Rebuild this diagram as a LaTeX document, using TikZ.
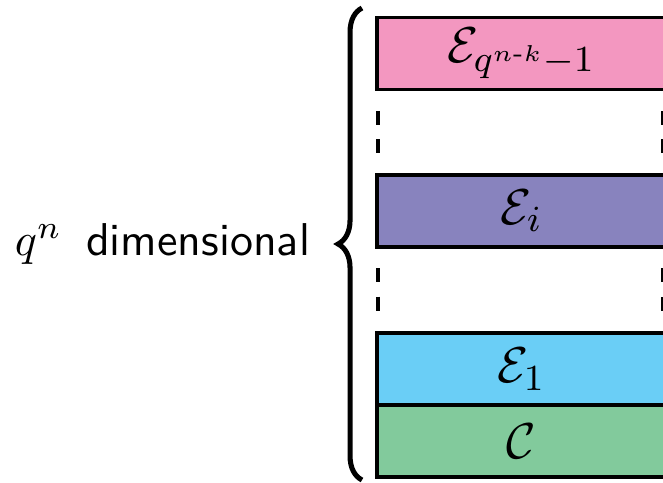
\documentclass[tikz,border=0pt]{standalone}
\usepackage{amsmath}
\usepackage{amssymb}
\usepackage{xcolor}
\usepackage{tikz}
\usetikzlibrary{calc,decorations.pathreplacing}
\definecolor{lyedge}{RGB}{0,0,0}
\definecolor{lypink}{RGB}{243,151,192}
\definecolor{lyviolet}{RGB}{136,131,190}
\definecolor{lycyan}{RGB}{106,206,246}
\definecolor{lygreen}{RGB}{130,202,156}
\tikzset{
  layer/.style={
    draw=lyedge, line width=0.8pt, align=center, inner sep=0pt, outer sep=0pt,
    minimum width=62.8pt, minimum height=15.7pt,
    font=\fontsize{11}{13}\selectfont
  },
  gap/.style={draw=lyedge, line width=0.75pt, dash pattern=on 3.05pt off 3.1pt},
  brc/.style={draw=lyedge, line width=1.1pt, decorate,
    decoration={brace, amplitude=5.2pt}},
  lbl/.style={font=\normalsize, inner sep=0pt}
}

\begin{document}
\begin{tikzpicture}[x=0.2174pt, y=-0.2174pt]
  \useasboundingbox (0,0) rectangle (663,482);
  % STACK
  \node[layer, fill=lypink] (etop) at (521.5,53.5)
    {$\mathcal{E}_{q^{n\text{-}k}-1}$};
  \node[layer, fill=lyviolet] (ei) at (521.5,211)
    {$\mathcal{E}_i$};
  \node[layer, fill=lycyan] (eone) at (521.5,369)
    {$\mathcal{E}_1$};
  \node[layer, fill=lygreen] (code) at (521.5,441)
    {$\mathcal{C}$};
  % dots between layers
  \draw[gap] ([xshift=0.2pt,yshift=-4.6pt]etop.south west)
    -- ([xshift=0.2pt,yshift=4.6pt]ei.north west);
  \draw[gap] ([xshift=-0.8pt,yshift=-4.6pt]etop.south east)
    -- ([xshift=-0.8pt,yshift=4.6pt]ei.north east);
  \draw[gap] ([xshift=0.2pt,yshift=-4.6pt]ei.south west)
    -- ([xshift=0.2pt,yshift=4.6pt]eone.north west);
  \draw[gap] ([xshift=-0.8pt,yshift=-4.6pt]ei.south east)
    -- ([xshift=-0.8pt,yshift=4.6pt]eone.north east);
  % BRACE
  \coordinate (bbot) at (362,480);
  \coordinate (btop) at (362,8);
  \draw[brc] (bbot) -- (btop);
  \node[lbl, anchor=base east] (dim) at (311,255)
    {$q^n$\hspace{5.2pt}\textsf{dimensional}};
\end{tikzpicture}
\end{document}
